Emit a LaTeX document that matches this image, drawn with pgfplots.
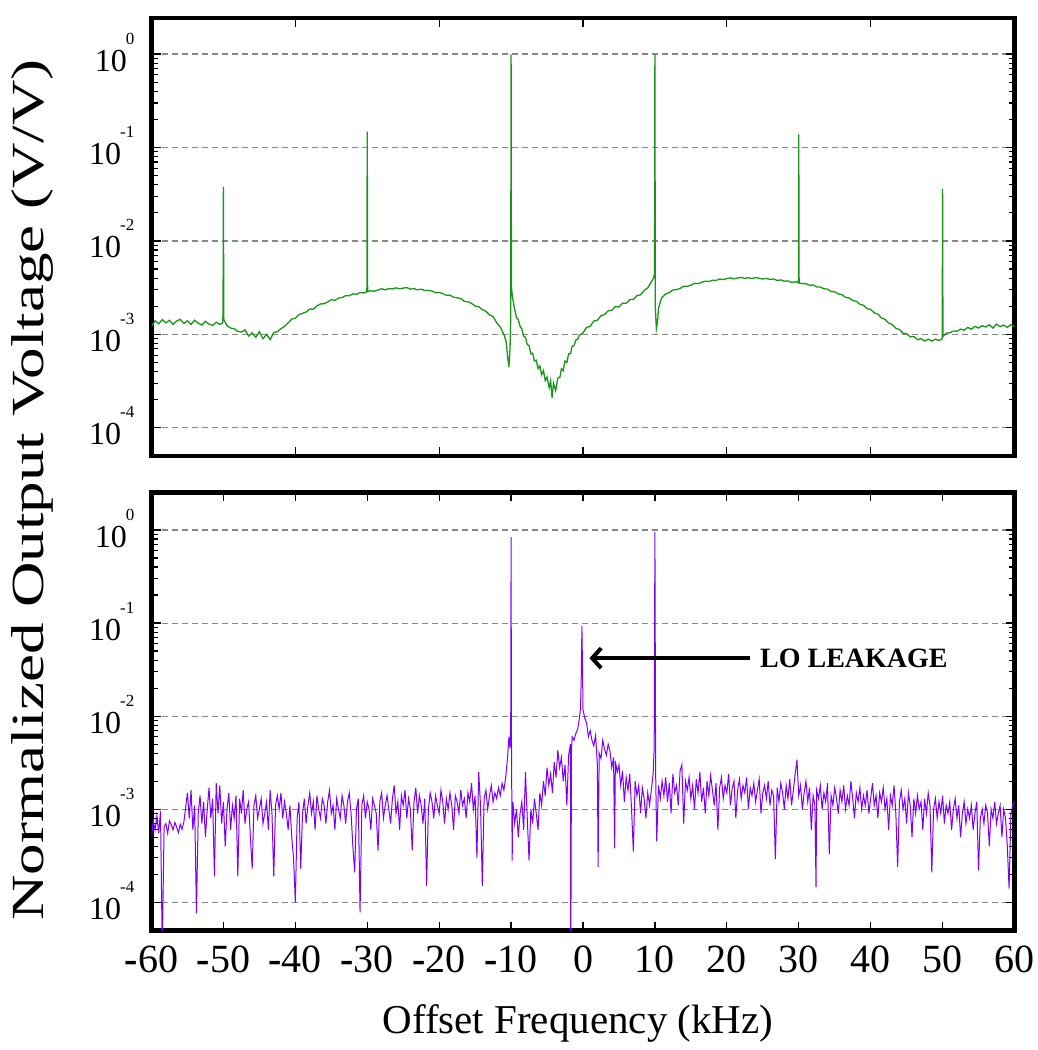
\documentclass[border=0pt]{standalone}
\usepackage{pgfplots}
\pgfplotsset{compat=1.18}
\usepackage{fontspec}
\setmainfont{Liberation Serif}
\usetikzlibrary{arrows.meta}
\definecolor{sgreen}{RGB}{25,150,25}
\definecolor{spurple}{RGB}{125,0,255}
\definecolor{gridgray}{RGB}{135,135,135}
\newcommand{\tp}[1]{10\kern-1pt\raisebox{27pt}{\fontsize{17}{17}\selectfont #1}}
\pgfplotsset{
  myax/.style={
    scale only axis, width=863pt, height=438pt,
    xmin=-60, xmax=60,
    axis line style={line width=4.5pt},
    tick align=inside,
    major tick length=9pt, minor tick length=6pt,
    tick style={black, line width=1.2pt},
    ytick={1e-4,1e-3,1e-2,1e-1,1},
    yticklabels={\tp{-4},\tp{-3},\tp{-2},\tp{-1},\tp{0}},
    yticklabel style={font=\fontsize{32}{32}\selectfont, anchor=east, inner sep=0pt, xshift=-17pt, yshift=2pt},
    ymajorgrids,
    major grid style={gridgray, line width=1.1pt, dash pattern=on 6pt off 4pt},
  }
}
\begin{document}
\begin{tikzpicture}
\path (0,0) rectangle (1038pt,-1050pt);
% ---------------- top panel ----------------
\begin{axis}[ymode=log, myax, at={(151.5pt,-18pt)}, anchor=north west,
  ymin=5.0e-5, ymax=2.43,
  xtick={-40,-20,0,20,40}, xticklabels={}]
\addplot[sgreen, line width=1.3pt] table {
-60 1.22e-3
-59.5 1.40e-3
-59 1.30e-3
-58.5 1.44e-3
-58 1.33e-3
-57.5 1.42e-3
-57 1.28e-3
-56.5 1.39e-3
-56 1.45e-3
-55.5 1.31e-3
-55 1.40e-3
-54.5 1.28e-3
-54 1.42e-3
-53.5 1.32e-3
-53 1.26e-3
-52.5 1.38e-3
-52 1.29e-3
-51.5 1.25e-3
-51 1.35e-3
-50.5 1.28e-3
-50.1 1.33e-3
-50.05 1.8e-3
-50 38e-3
-49.95 1.45e-3
-49.5 1.24e-3
-49 1.17e-3
-48.5 1.15e-3
-48 1.08e-3
-47.5 1.06e-3
-47 1.12e-3
-46.5 0.96e-3
-46 1.04e-3
-45.5 0.93e-3
-45 1.07e-3
-44.5 0.90e-3
-44 1.00e-3
-43.5 0.88e-3
-43 1.05e-3
-42.5 1.07e-3
-42 1.15e-3
-41.5 1.22e-3
-41 1.33e-3
-40.5 1.46e-3
-40 1.49e-3
-39.5 1.63e-3
-39 1.68e-3
-38.5 1.74e-3
-38 1.87e-3
-37.5 1.86e-3
-37 2.02e-3
-36.5 2.12e-3
-36 2.13e-3
-35.5 2.22e-3
-35 2.36e-3
-34.5 2.31e-3
-34 2.45e-3
-33.5 2.48e-3
-33 2.60e-3
-32.5 2.59e-3
-32 2.72e-3
-31.5 2.69e-3
-31 2.80e-3
-30.5 2.78e-3
-30.05 2.86e-3
-30 148e-3
-29.95 2.88e-3
-29.5 2.93e-3
-29 2.90e-3
-28.5 2.99e-3
-28 3.08e-3
-27.5 3.00e-3
-27 3.09e-3
-26.5 3.06e-3
-26 3.15e-3
-25.5 3.08e-3
-25 3.13e-3
-24.5 3.17e-3
-24 3.05e-3
-23.5 3.09e-3
-23 3.00e-3
-22.5 3.05e-3
-22 2.95e-3
-21.5 2.96e-3
-21 2.91e-3
-20.5 2.79e-3
-20 2.81e-3
-19.5 2.74e-3
-19 2.62e-3
-18.5 2.63e-3
-18 2.50e-3
-17.5 2.47e-3
-17 2.41e-3
-16.5 2.26e-3
-16 2.23e-3
-15.5 2.15e-3
-15 2.01e-3
-14.5 1.98e-3
-14 1.84e-3
-13.5 1.77e-3
-13 1.62e-3
-12.5 1.55e-3
-12 1.33e-3
-11.5 1.20e-3
-11 1.00e-3
-10.7 0.84e-3
-10.5 0.60e-3
-10.3 0.45e-3
-10.15 0.70e-3
-10.05 1.5e-3
-10 990e-3
-9.95 3.2e-3
-9.8 2.5e-3
-9.5 1.85e-3
-9.25 1.52e-3
-9 1.44e-3
-8.75 1.22e-3
-8.5 1.14e-3
-8.25 0.96e-3
-8 0.93e-3
-7.75 0.78e-3
-7.5 0.76e-3
-7.25 0.62e-3
-7 0.63e-3
-6.75 0.52e-3
-6.5 0.53e-3
-6.25 0.43e-3
-6 0.46e-3
-5.75 0.37e-3
-5.5 0.41e-3
-5.25 0.32e-3
-5 0.35e-3
-4.7 0.27e-3
-4.5 0.32e-3
-4.3 0.21e-3
-4.1 0.30e-3
-3.8 0.25e-3
-3.5 0.34e-3
-3.2 0.35e-3
-3 0.43e-3
-2.75 0.41e-3
-2.5 0.52e-3
-2.25 0.50e-3
-2 0.62e-3
-1.75 0.62e-3
-1.5 0.75e-3
-1.25 0.76e-3
-1 0.87e-3
-0.75 0.88e-3
-0.5 0.98e-3
0 1.04e-3
0.5 1.19e-3
1 1.22e-3
1.5 1.39e-3
2 1.42e-3
2.5 1.59e-3
3 1.63e-3
3.5 1.79e-3
4 1.81e-3
4.5 1.99e-3
5 1.96e-3
5.5 2.16e-3
6 2.15e-3
6.5 2.36e-3
7 2.36e-3
7.5 2.60e-3
8 2.65e-3
8.5 2.95e-3
9 3.15e-3
9.5 3.65e-3
9.8 4.00e-3
9.95 4.50e-3
10 1000e-3
10.05 2.0e-3
10.2 1.15e-3
10.35 1.35e-3
10.5 1.90e-3
10.8 2.30e-3
11 2.50e-3
11.5 2.71e-3
12 2.80e-3
12.5 2.99e-3
13 3.02e-3
13.5 3.10e-3
14 3.28e-3
14.5 3.27e-3
15 3.36e-3
15.5 3.52e-3
16 3.49e-3
16.5 3.62e-3
17 3.71e-3
17.5 3.68e-3
18 3.80e-3
18.5 3.78e-3
19 3.92e-3
19.5 3.86e-3
20 3.95e-3
20.5 4.03e-3
21 3.93e-3
21.5 4.02e-3
22 4.08e-3
22.5 3.97e-3
23 4.05e-3
23.5 3.96e-3
24 4.06e-3
24.5 3.99e-3
25 3.91e-3
25.5 3.97e-3
26 3.88e-3
26.5 3.92e-3
27 3.78e-3
27.5 3.83e-3
28 3.71e-3
28.5 3.74e-3
29 3.60e-3
29.5 3.66e-3
29.95 3.58e-3
30 138e-3
30.05 3.55e-3
30.5 3.50e-3
31 3.49e-3
31.5 3.36e-3
32 3.38e-3
32.5 3.22e-3
33 3.21e-3
33.5 3.08e-3
34 3.05e-3
34.5 2.88e-3
35 2.86e-3
35.5 2.71e-3
36 2.67e-3
36.5 2.49e-3
37 2.46e-3
37.5 2.30e-3
38 2.27e-3
38.5 2.10e-3
39 2.05e-3
39.5 1.89e-3
40 1.85e-3
40.5 1.70e-3
41 1.65e-3
41.5 1.50e-3
42 1.45e-3
42.5 1.32e-3
43 1.28e-3
43.5 1.16e-3
44 1.13e-3
44.5 1.03e-3
45 1.02e-3
45.5 0.94e-3
46 0.95e-3
46.5 0.88e-3
47 0.90e-3
47.5 0.85e-3
48 0.89e-3
48.5 0.85e-3
49 0.89e-3
49.5 0.86e-3
49.95 0.90e-3
50 36e-3
50.05 0.95e-3
50.5 1.03e-3
51 1.04e-3
51.5 1.09e-3
52 1.08e-3
52.5 1.14e-3
53 1.11e-3
53.5 1.19e-3
54 1.14e-3
54.5 1.22e-3
55 1.17e-3
55.5 1.24e-3
56 1.20e-3
56.5 1.27e-3
57 1.17e-3
57.5 1.29e-3
58 1.21e-3
58.5 1.26e-3
59 1.19e-3
59.5 1.27e-3
60 1.21e-3
};
\end{axis}
% ---------------- bottom panel ----------------
\begin{axis}[ymode=log, myax, at={(151.5pt,-492.5pt)}, anchor=north west,
  ymin=4.97e-5, ymax=2.53,
  xtick={-60,-50,...,60},
  xticklabels={\textbf{-}60,\textbf{-}50,\textbf{-}40,\textbf{-}30,\textbf{-}20,\textbf{-}10,0,10,20,30,40,50,60},
  xticklabel style={font=\fontsize{40}{40}\selectfont, anchor=north, inner sep=0pt, yshift=-15pt}]
\addplot[spurple, line width=1.0pt] table {
-60.00 5.0e-4
-59.75 7.5e-4
-59.50 6.0e-4
-59.25 8.5e-4
-59.00 5.5e-4
-58.75 9.5e-4
-58.50 0.3e-4
-58.25 6.5e-4
-58.00 7.0e-4
-57.75 5.5e-4
-57.50 7.5e-4
-57.25 6.8e-4
-57.00 6.0e-4
-56.75 7.2e-4
-56.50 6.4e-4
-56.25 5.6e-4
-56.00 6.9e-4
-55.75 6.1e-4
-55.50 7.3e-4
-55.25 10.5e-4
-55.00 15e-4
-54.75 8e-4
-54.50 16e-4
-54.25 6e-4
-54.00 11e-4
-53.75 0.76e-4
-53.50 9e-4
-53.25 14e-4
-53.00 7e-4
-52.75 12e-4
-52.50 5e-4
-52.25 10e-4
-52.00 17e-4
-51.75 8e-4
-51.50 13e-4
-51.25 1.9e-4
-51.00 19e-4
-50.75 9e-4
-50.50 18e-4
-50.25 7e-4
-50.00 12e-4
-49.75 4e-4
-49.50 10e-4
-49.25 15e-4
-49.00 6e-4
-48.75 11e-4
-48.50 8e-4
-48.25 14e-4
-48.00 1.9e-4
-47.75 13e-4
-47.50 9e-4
-47.25 16e-4
-47.00 7e-4
-46.75 10e-4
-46.50 12e-4
-46.25 5e-4
-46.00 2.3e-4
-45.75 11e-4
-45.50 14e-4
-45.25 8e-4
-45.00 10e-4
-44.75 13e-4
-44.50 7e-4
-44.25 9e-4
-44.00 12e-4
-43.75 6e-4
-43.50 16e-4
-43.25 9e-4
-43.00 1.9e-4
-42.75 11e-4
-42.50 14e-4
-42.25 10e-4
-42.00 15e-4
-41.75 8e-4
-41.50 12e-4
-41.25 9e-4
-41.00 6e-4
-40.75 11e-4
-40.50 5e-4
-40.25 3e-4
-40.00 1.0e-4
-39.75 8e-4
-39.50 12e-4
-39.25 2.3e-4
-39.00 9e-4
-38.75 13e-4
-38.50 7e-4
-38.25 11e-4
-38.00 15e-4
-37.75 9e-4
-37.50 12e-4
-37.25 6e-4
-37.00 14e-4
-36.75 10e-4
-36.50 8e-4
-36.25 13e-4
-36.00 11e-4
-35.75 7e-4
-35.50 12e-4
-35.25 16e-4
-35.00 9e-4
-34.75 11e-4
-34.50 6e-4
-34.25 13e-4
-34.00 10e-4
-33.75 8e-4
-33.50 14e-4
-33.25 11e-4
-33.00 7e-4
-32.75 12e-4
-32.50 15e-4
-32.25 9e-4
-32.00 4e-4
-31.75 2.1e-4
-31.50 10e-4
-31.25 13e-4
-31.00 0.78e-4
-30.75 11e-4
-30.50 14e-4
-30.25 8e-4
-30.00 12e-4
-29.75 10e-4
-29.50 6e-4
-29.25 13e-4
-29.00 11e-4
-28.75 9e-4
-28.50 3.6e-4
-28.25 12e-4
-28.00 15e-4
-27.75 8e-4
-27.50 11e-4
-27.25 14e-4
-27.00 10e-4
-26.75 7e-4
-26.50 13e-4
-26.25 18e-4
-26.00 9e-4
-25.75 12e-4
-25.50 6e-4
-25.25 14e-4
-25.00 11e-4
-24.75 16e-4
-24.50 8e-4
-24.25 13e-4
-24.00 10e-4
-23.75 3.6e-4
-23.50 12e-4
-23.25 17e-4
-23.00 9e-4
-22.75 14e-4
-22.50 11e-4
-22.25 7e-4
-22.00 13e-4
-21.75 1.5e-4
-21.50 10e-4
-21.25 15e-4
-21.00 12e-4
-20.75 8e-4
-20.50 14e-4
-20.25 11e-4
-20.00 9e-4
-19.75 16e-4
-19.50 12e-4
-19.25 7e-4
-19.00 13e-4
-18.75 10e-4
-18.50 15e-4
-18.25 11e-4
-18.00 6e-4
-17.75 14e-4
-17.50 12e-4
-17.25 9e-4
-17.00 16e-4
-16.75 11e-4
-16.50 13e-4
-16.25 8e-4
-16.00 15e-4
-15.75 12e-4
-15.50 19e-4
-15.25 10e-4
-15.00 14e-4
-14.75 3.0e-4
-14.50 25e-4
-14.25 11e-4
-14.00 1.5e-4
-13.75 13e-4
-13.50 16e-4
-13.25 10e-4
-13.00 14e-4
-12.75 18e-4
-12.50 12e-4
-12.25 15e-4
-12.00 13e-4
-11.75 17e-4
-11.50 14e-4
-11.25 19e-4
-11.00 16e-4
-10.75 22e-4
-10.50 35e-4
-10.30 60e-4
-10.15 45e-4
-10.05 80e-4
-10.00 8400e-4
-9.95 60e-4
-9.85 2.8e-4
-9.75 12e-4
-9.50 7e-4
-9.25 10e-4
-9.00 5e-4
-8.75 9e-4
-8.50 12e-4
-8.25 6e-4
-8.00 25e-4
-7.75 8e-4
-7.50 2.8e-4
-7.25 10e-4
-7.00 7e-4
-6.75 13e-4
-6.50 9e-4
-6.25 6e-4
-6.00 15e-4
-5.75 11e-4
-5.50 20e-4
-5.25 14e-4
-5.00 28e-4
-4.75 18e-4
-4.50 24e-4
-4.25 15e-4
-4.00 32e-4
-3.75 22e-4
-3.50 43e-4
-3.25 28e-4
-3.00 36e-4
-2.75 20e-4
-2.50 30e-4
-2.25 11e-4
-2.00 38e-4
-1.75 50e-4
-1.70 0.2e-4
-1.60 45e-4
-1.50 60e-4
-1.25 55e-4
-1.00 65e-4
-0.75 72e-4
-0.50 95e-4
-0.35 120e-4
-0.25 240e-4
-0.15 930e-4
-0.05 250e-4
0.00 117e-4
0.25 95e-4
0.50 84e-4
0.75 60e-4
1.00 70e-4
1.25 55e-4
1.50 48e-4
1.75 62e-4
2.00 30e-4
2.10 2.4e-4
2.25 40e-4
2.50 35e-4
2.75 55e-4
3.00 44e-4
3.25 38e-4
3.50 50e-4
3.75 42e-4
4.00 28e-4
4.25 36e-4
4.40 3.8e-4
4.50 33e-4
4.75 25e-4
5.00 30e-4
5.25 18e-4
5.50 26e-4
5.75 12e-4
6.00 22e-4
6.25 16e-4
6.50 24e-4
6.75 10e-4
7.00 3.5e-4
7.25 20e-4
7.50 14e-4
7.75 18e-4
8.00 9e-4
8.25 17e-4
8.50 13e-4
8.75 8e-4
9.00 15e-4
9.25 11e-4
9.50 16e-4
9.75 24e-4
9.90 45e-4
10.00 9500e-4
10.10 25e-4
10.25 4.5e-4
10.50 18e-4
10.75 13e-4
11.00 20e-4
11.25 14e-4
11.50 22e-4
11.75 12e-4
12.00 19e-4
12.25 9e-4
12.50 24e-4
12.75 15e-4
13.00 18e-4
13.25 11e-4
13.50 26e-4
13.75 30e-4
14.00 7e-4
14.25 20e-4
14.50 16e-4
14.75 22e-4
15.00 13e-4
15.25 18e-4
15.50 10e-4
15.75 21e-4
16.00 15e-4
16.25 25e-4
16.50 12e-4
16.75 17e-4
17.00 9e-4
17.25 20e-4
17.50 14e-4
17.75 23e-4
18.00 16e-4
18.25 11e-4
18.50 19e-4
18.75 6e-4
19.00 17e-4
19.25 22e-4
19.50 13e-4
19.75 18e-4
20.00 15e-4
20.25 24e-4
20.50 11e-4
20.75 17e-4
21.00 20e-4
21.25 8e-4
21.50 16e-4
21.75 21e-4
22.00 13e-4
22.25 18e-4
22.50 15e-4
22.75 22e-4
23.00 10e-4
23.25 17e-4
23.50 14e-4
23.75 19e-4
24.00 12e-4
24.25 16e-4
24.50 21e-4
24.75 9e-4
25.00 15e-4
25.25 18e-4
25.50 13e-4
25.75 20e-4
26.00 11e-4
26.25 16e-4
26.50 14e-4
26.75 2.9e-4
27.00 17e-4
27.25 12e-4
27.50 19e-4
27.75 15e-4
28.00 10e-4
28.25 18e-4
28.50 13e-4
28.75 21e-4
29.00 11e-4
29.25 16e-4
29.50 24e-4
29.75 34e-4
30.00 14e-4
30.25 18e-4
30.50 10e-4
30.75 15e-4
31.00 20e-4
31.25 12e-4
31.50 17e-4
31.75 6e-4
32.00 14e-4
32.25 11e-4
32.40 1.45e-4
32.50 16e-4
32.75 13e-4
33.00 18e-4
33.25 10e-4
33.50 15e-4
33.75 12e-4
34.00 19e-4
34.25 3.3e-4
34.50 14e-4
34.75 11e-4
35.00 17e-4
35.25 13e-4
35.50 9e-4
35.75 16e-4
36.00 12e-4
36.25 18e-4
36.50 10e-4
36.75 14e-4
37.00 11e-4
37.25 20e-4
37.50 13e-4
37.75 8e-4
38.00 15e-4
38.25 12e-4
38.50 17e-4
38.75 10e-4
39.00 14e-4
39.25 11e-4
39.50 16e-4
39.75 9e-4
40.00 13e-4
40.25 19e-4
40.50 11e-4
40.75 14e-4
41.00 8e-4
41.25 15e-4
41.50 12e-4
41.75 17e-4
42.00 10e-4
42.25 13e-4
42.50 6e-4
42.75 14e-4
43.00 11e-4
43.25 18e-4
43.50 9e-4
43.75 2.4e-4
44.00 12e-4
44.25 16e-4
44.50 10e-4
44.75 13e-4
45.00 7e-4
45.25 15e-4
45.50 11e-4
45.75 5e-4
46.00 13e-4
46.25 9e-4
46.50 14e-4
46.75 10e-4
47.00 12e-4
47.25 6e-4
47.50 13e-4
47.75 9e-4
48.00 15e-4
48.25 11e-4
48.50 2.1e-4
48.75 10e-4
49.00 13e-4
49.25 8e-4
49.50 12e-4
49.75 9e-4
50.00 14e-4
50.25 7e-4
50.50 11e-4
50.75 9e-4
51.00 12e-4
51.25 6e-4
51.50 10e-4
51.75 13e-4
52.00 8e-4
52.25 11e-4
52.50 5e-4
52.75 9e-4
53.00 12e-4
53.25 7e-4
53.50 10e-4
53.75 8e-4
54.00 11e-4
54.25 6e-4
54.50 9e-4
54.75 12e-4
55.00 2.2e-4
55.25 8e-4
55.50 10e-4
55.75 7e-4
56.00 11e-4
56.25 9e-4
56.50 4e-4
56.75 10e-4
57.00 8e-4
57.25 12e-4
57.50 7e-4
57.75 9e-4
58.00 11e-4
58.25 5e-4
58.50 10e-4
58.75 8e-4
59.00 4e-4
59.25 1.4e-4
59.50 9e-4
59.75 11e-4
60.00 12e-4
};
\draw[line width=4pt, -{Straight Barb[length=9pt, width=20pt, line width=4pt]}] (axis cs:23.2,0.042) -- (axis cs:0.9,0.042);
\node[anchor=west, inner sep=0pt, font=\fontsize{28}{28}\selectfont\bfseries] at (axis cs:24.6,0.042) {LO LEAKAGE};
\end{axis}
\node[rotate=90, inner sep=0pt] at (33pt,-490pt) {\fontsize{46}{46}\selectfont\scalebox{1.37}[1]{Normalized Output Voltage (V/V)}};
\node[anchor=base, inner sep=0pt] at (578pt,-1033pt) {\fontsize{41}{41}\selectfont Offset Frequency (kHz)};
\end{tikzpicture}
\end{document}
